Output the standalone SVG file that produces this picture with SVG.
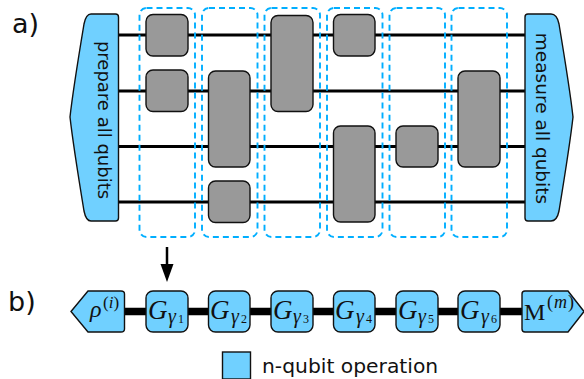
<svg xmlns="http://www.w3.org/2000/svg" width="584" height="379" viewBox="0 0 584 379">
<style>
.wire{stroke:#000;stroke-width:3;fill:none}
.thick{stroke:#000;stroke-width:7.5;fill:none}
.gate{fill:#999;stroke:#111;stroke-width:1.4}
.blue{fill:#70d0ff;stroke:#111;stroke-width:1.4}
.dash{fill:none;stroke:#00aeff;stroke-width:1.9;stroke-dasharray:6 4}
.lab{font-family:"DejaVu Sans",sans-serif;fill:#111}
.m{font-family:"Liberation Serif",serif;fill:#111}
.i{font-style:italic}
.G{font-family:"Liberation Serif",serif;font-style:italic;font-size:27px;fill:#111}
.s{font-family:"Liberation Serif",serif;font-style:italic;font-size:20px;fill:#111}
.n{font-style:normal;font-size:12px}
</style>
<rect width="584" height="379" fill="#fff"/>
<text class="lab" x="12" y="33" font-size="27">a)</text>
<text class="lab" x="8" y="311" font-size="27">b)</text>
<g id="connectors">
<path class="wire" d="M118 35H525M118 91H525M118 146.500H525M118 202H525"/>
<path class="thick" d="M124 311.500H524"/>
<path d="M167 247V268" stroke="#000" stroke-width="2.500" fill="none"/>
<path d="M160.500 264H173.500L167 282Z" fill="#000"/>
</g>
<g id="prepare"><path class="blue" d="M118.500 17Q118.500 14 115.500 14H91Q86 14 84 24Q73 90 70 117Q73 144 84 211Q86 221 91 221H115.500Q118.500 221 118.500 218Z"/>
<text class="lab" font-size="18" transform="translate(98 120) rotate(90)" text-anchor="middle">prepare all qubits</text></g>
<g id="measure"><path class="blue" d="M525 17Q525 14 528 14H551Q557 14 559 24Q570 90 573 117Q570 144 559 211Q557 221 551 221H528Q525 221 525 218Z"/>
<text class="lab" font-size="18.500" transform="translate(535.500 118.500) rotate(90)" text-anchor="middle">measure all qubits</text></g>
<g id="layer1"><rect class="dash" x="139.500" y="8" width="55.500" height="229" rx="7"/><rect class="gate" x="146" y="14.500" width="42" height="41.500" rx="7"/><rect class="gate" x="146" y="70" width="42" height="41.500" rx="7"/></g>
<g id="layer2"><rect class="dash" x="202" y="8" width="55.500" height="229" rx="7"/><rect class="gate" x="208.500" y="71" width="41.500" height="96" rx="7"/><rect class="gate" x="208.500" y="181" width="41.500" height="41.500" rx="7"/></g>
<g id="layer3"><rect class="dash" x="264.500" y="8" width="55.500" height="229" rx="7"/><rect class="gate" x="271" y="15.500" width="42" height="96" rx="7"/></g>
<g id="layer4"><rect class="dash" x="327" y="8" width="55.500" height="229" rx="7"/><rect class="gate" x="333.500" y="14.500" width="41.500" height="41.500" rx="7"/><rect class="gate" x="333.500" y="126" width="41.500" height="96" rx="7"/></g>
<g id="layer5"><rect class="dash" x="389.500" y="8" width="55.500" height="229" rx="7"/><rect class="gate" x="396" y="126" width="42" height="41" rx="7"/></g>
<g id="layer6"><rect class="dash" x="451.500" y="8" width="55.500" height="229" rx="7"/><rect class="gate" x="458" y="71" width="42" height="96" rx="7"/></g>
<g id="rho"><path class="blue" d="M71 311.500L88 291H121Q124.500 291 124.500 294V329Q124.500 332 121 332H88Z"/>
<text class="m i" x="90" y="317" font-size="24">ρ</text><text class="m" x="103" y="308" font-size="17">(<tspan class="i">i</tspan>)</text></g>
<g id="g1"><rect class="blue" x="146" y="291" width="42" height="41" rx="7"/><text class="G" x="148" y="318.500">G</text><text class="s" x="168" y="323">γ<tspan class="n" dx="2">1</tspan></text></g>
<g id="g2"><rect class="blue" x="208.500" y="291" width="41.500" height="41" rx="7"/><text class="G" x="210" y="318.500">G</text><text class="s" x="231" y="323">γ<tspan class="n" dx="2">2</tspan></text></g>
<g id="g3"><rect class="blue" x="271" y="291" width="42" height="41" rx="7"/><text class="G" x="273" y="318.500">G</text><text class="s" x="293" y="323">γ<tspan class="n" dx="2">3</tspan></text></g>
<g id="g4"><rect class="blue" x="333.500" y="291" width="41.500" height="41" rx="7"/><text class="G" x="335" y="318.500">G</text><text class="s" x="356" y="323">γ<tspan class="n" dx="2">4</tspan></text></g>
<g id="g5"><rect class="blue" x="396" y="291" width="42" height="41" rx="7"/><text class="G" x="398" y="318.500">G</text><text class="s" x="418" y="323">γ<tspan class="n" dx="2">5</tspan></text></g>
<g id="g6"><rect class="blue" x="458" y="291" width="42" height="41" rx="7"/><text class="G" x="460" y="318.500">G</text><text class="s" x="481" y="323">γ<tspan class="n" dx="2">6</tspan></text></g>
<g id="measureOp"><path class="blue" d="M522 294Q522 291 525 291H568L584 311.500L568 332H525Q522 332 522 329Z"/>
<text class="m" x="524" y="320" font-size="24">M</text><text class="m" x="547" y="308" font-size="18" letter-spacing="1">(<tspan class="i">m</tspan>)</text></g>
<g id="legend"><rect class="blue" x="222.500" y="352" width="28" height="27"/><text class="lab" x="262" y="373" font-size="20.300">n-qubit operation</text></g>
</svg>
